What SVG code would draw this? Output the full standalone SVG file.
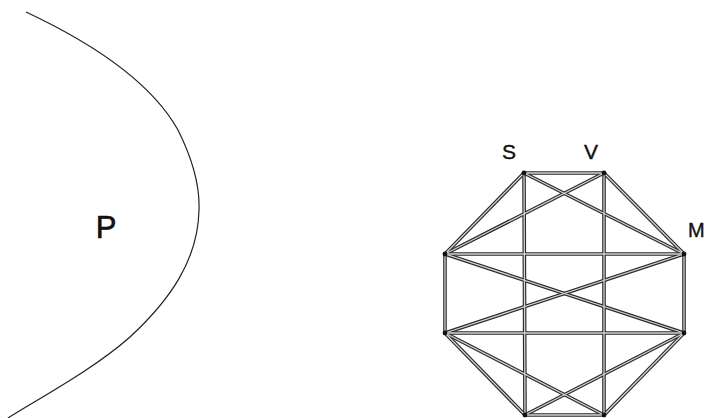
<svg xmlns="http://www.w3.org/2000/svg" width="707" height="418" viewBox="0 0 707 418">
<style>
.lbl{font-family:"Liberation Sans",Arial,sans-serif;fill:#111;}
.outer{stroke:#2a2a2a;stroke-width:3.6;fill:none;stroke-linecap:round;}
.inner{stroke:#d4d4d4;stroke-width:1.3;fill:none;stroke-linecap:round;}
.dot{fill:#111;}
</style>
<defs>
<g id="edges-geom">
<line x1="524" y1="173" x2="604" y2="173"/>
<line x1="524" y1="173" x2="684" y2="254"/>
<line x1="524" y1="173" x2="525" y2="415"/>
<line x1="524" y1="173" x2="445" y2="254"/>
<line x1="604" y1="173" x2="684" y2="254"/>
<line x1="604" y1="173" x2="604" y2="415"/>
<line x1="604" y1="173" x2="445" y2="254"/>
<line x1="684" y1="254" x2="684" y2="333"/>
<line x1="684" y1="254" x2="445" y2="333"/>
<line x1="684" y1="254" x2="445" y2="254"/>
<line x1="684" y1="333" x2="604" y2="415"/>
<line x1="684" y1="333" x2="525" y2="415"/>
<line x1="684" y1="333" x2="445" y2="333"/>
<line x1="684" y1="333" x2="445" y2="254"/>
<line x1="604" y1="415" x2="525" y2="415"/>
<line x1="604" y1="415" x2="445" y2="333"/>
<line x1="525" y1="415" x2="445" y2="333"/>
<line x1="445" y1="333" x2="445" y2="254"/>
</g>
</defs>
<g id="curve-P">
<path d="M26,12 C90,42 150,80 178,130 C192,158 200,185 199,210 C198,260 170,300 130,337 C95,368 45,395 8,418" fill="none" stroke="#222" stroke-width="1.2"/>
<text class="lbl" x="106" y="238" font-size="31" text-anchor="middle" stroke="#111" stroke-width="0.6">P</text>
</g>
<g id="connectors">
<use href="#edges-geom" class="outer"/>
<use href="#edges-geom" class="inner"/>
</g>
<g id="node-S"><circle class="dot" cx="524" cy="173" r="2.4"/><text class="lbl" x="509" y="159" font-size="21" text-anchor="middle" stroke="#111" stroke-width="0.4">S</text></g>
<g id="node-V"><circle class="dot" cx="604" cy="173" r="2.4"/><text class="lbl" x="591" y="159" font-size="21" text-anchor="middle" stroke="#111" stroke-width="0.4">V</text></g>
<g id="node-M"><circle class="dot" cx="684" cy="254" r="2.4"/><text class="lbl" x="688" y="237" font-size="20" stroke="#111" stroke-width="0.4">M</text></g>
<g id="node-D"><circle class="dot" cx="684" cy="333" r="2.4"/></g>
<g id="node-E"><circle class="dot" cx="604" cy="415" r="2.4"/></g>
<g id="node-F"><circle class="dot" cx="525" cy="415" r="2.4"/></g>
<g id="node-G"><circle class="dot" cx="445" cy="333" r="2.4"/></g>
<g id="node-H"><circle class="dot" cx="445" cy="254" r="2.4"/></g>
</svg>
